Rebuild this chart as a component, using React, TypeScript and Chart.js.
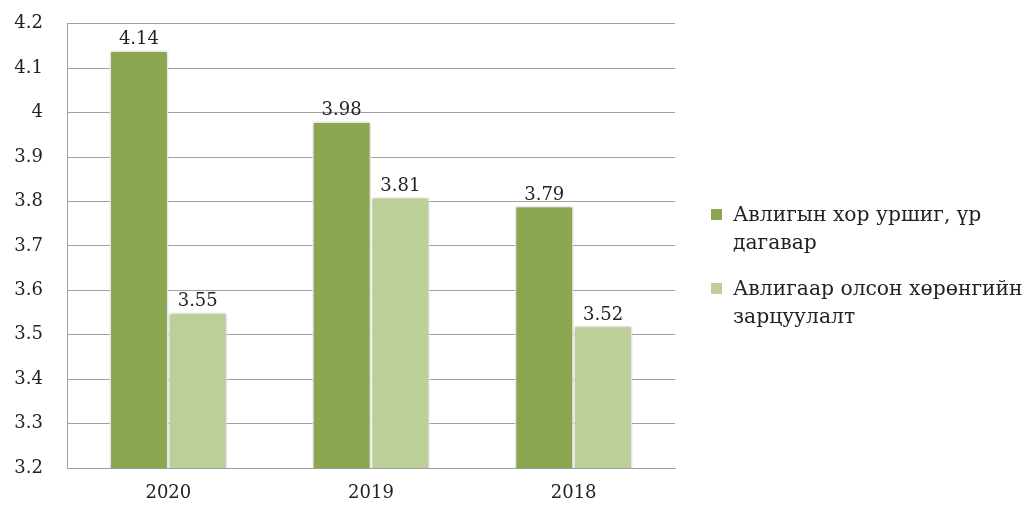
import React, { useEffect, useRef } from "react";
import { Chart, registerables } from "chart.js";

Chart.register(...registerables);

const categories = ["2020", "2019", "2018"];
const seriesNames = ["Авлигын хор уршиг, үр дагавар", "Авлигаар олсон хөрөнгийн зарцуулалт"];
const seriesA = [4.14, 3.98, 3.79];
const seriesB = [3.55, 3.81, 3.52];
const colors = ["#8aa64e", "#bccf98"];
const legendLines = [["Авлигын хор уршиг, үр", "дагавар"], ["Авлигаар олсон хөрөнгийн", "зарцуулалт"]];

const FONT = "'DejaVu Serif', serif";
const SHIFT = 11;

const labelPlugin = {
  id: "valueLabels",
  afterDatasetsDraw(chart: any) {
    const ctx = chart.ctx;
    ctx.save();
    ctx.font = `18px ${FONT}`;
    ctx.fillStyle = "#222";
    ctx.textAlign = "center";
    ctx.textBaseline = "bottom";
    chart.data.datasets.forEach((ds: any, i: number) => {
      const meta = chart.getDatasetMeta(i);
      meta.data.forEach((el: any, j: number) => {
        ctx.fillText(String(ds.data[j]), el.x, el.y - 2);
      });
    });
    ctx.restore();
  },
};

const shadowPlugin = {
  id: "barShadow",
  beforeDatasetsDraw(chart: any) {
    const ctx = chart.ctx;
    ctx.save();
    ctx.shadowColor = "rgba(0,0,0,0.25)";
    ctx.shadowBlur = 4;
    ctx.shadowOffsetX = 0;
    ctx.shadowOffsetY = 0;
  },
  afterDatasetsDraw(chart: any) {
    chart.ctx.restore();
  },
};

export default function App() {
  const ref = useRef<HTMLCanvasElement>(null);
  useEffect(() => {
    document.body.style.margin = "0";
    const chart = new Chart(ref.current!, {
      type: "bar",
      data: {
        labels: categories,
        datasets: [
          { label: seriesNames[0], data: seriesA, backgroundColor: colors[0], borderColor: "#ffffff", borderWidth: 1.5 },
          { label: seriesNames[1], data: seriesB, backgroundColor: colors[1], borderColor: "#ffffff", borderWidth: 1.5 },
        ],
      },
      options: {
        animation: false,
        responsive: false,
        maintainAspectRatio: false,
        layout: { padding: { top: 11, right: 357, left: 0, bottom: 0 } },
        datasets: { bar: { categoryPercentage: 0.58, barPercentage: 1 } },
        plugins: { legend: { display: false }, tooltip: { enabled: false } },
        scales: {
          x: {
            grid: { display: false, drawTicks: false },
            border: { color: "#a0a0a0", width: 1 },
            ticks: { font: { family: FONT, size: 18 }, color: "#222", padding: 15 },
            afterFit(s: any) { s.height = 38 + SHIFT; },
          },
          y: {
            min: 3.2,
            max: 4.2,
            grid: { color: "#a0a0a0", drawTicks: false },
            border: { color: "#a0a0a0", width: 1 },
            ticks: {
              stepSize: 0.1,
              font: { family: FONT, size: 18 },
              color: "#222",
              padding: 24,
              callback: (v: any) => String(Number(Number(v).toFixed(1))),
            },
            afterFit(s: any) { s.width = 67; },
          },
        },
      },
      plugins: [shadowPlugin, labelPlugin],
    });
    return () => chart.destroy();
  }, []);
  return (
    <div style={{ position: "fixed", left: 0, top: 0, width: 1032, height: 506, background: "#fff", overflow: "hidden" }}>
      <canvas ref={ref} width={1032} height={506 + 2 * SHIFT} style={{ position: "absolute", left: 0, top: -SHIFT }} />
      {legendLines.map((lines, i) => (
        <div key={i} style={{ position: "absolute", left: 711, top: 200 + i * 74, fontFamily: FONT, fontSize: 20.3, color: "#222", lineHeight: "28px" }}>
          <span style={{ position: "absolute", left: 0, top: 9, width: 11, height: 11, background: colors[i] }} />
          <div style={{ marginLeft: 22, whiteSpace: "nowrap" }}>{lines[0]}</div>
          <div style={{ marginLeft: 22, whiteSpace: "nowrap" }}>{lines[1]}</div>
        </div>
      ))}
    </div>
  );
}
